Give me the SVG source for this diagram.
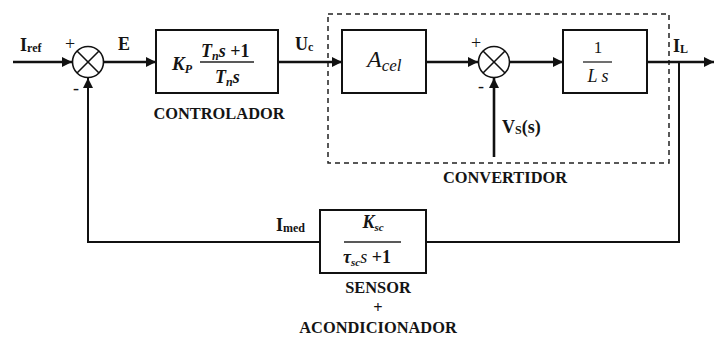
<svg xmlns="http://www.w3.org/2000/svg" width="714" height="340" viewBox="0 0 714 340" font-family="'Liberation Serif', 'DejaVu Serif', serif">
<style>
text{font-family:'Liberation Serif','DejaVu Serif',serif;fill:#141414}
.lbl{font-weight:bold;font-size:18px}
.sub{font-size:12px;font-weight:bold}
.cap{font-weight:bold;font-size:16.4px;text-anchor:middle}
.box{fill:#fff;stroke:#111;stroke-width:2}
.sum{fill:#fff;stroke:#111;stroke-width:1.6}
.x{stroke:#111;stroke-width:1.6}
.main{fill:none;stroke:#111;stroke-width:2.6}
.fb{fill:none;stroke:#111;stroke-width:2}
.frac{stroke:#222;stroke-width:1.3}
.math{font-style:italic;font-weight:bold}
.mi{font-style:italic}
</style>
<defs>
<marker id="arr" viewBox="0 0 10 10" markerWidth="12" markerHeight="10" refX="10" refY="5" orient="auto" markerUnits="userSpaceOnUse">
<path d="M0,0 L10,5 L0,10 z" fill="#111"/>
</marker>
</defs>

<rect id="convertidor-frame" x="328" y="14" width="341" height="149" fill="none" stroke="#222" stroke-width="1.5" stroke-dasharray="5,4"/>

<g id="connectors">
<path class="main" d="M13,62 H72" marker-end="url(#arr)"/>
<path class="main" d="M104,62 H156" marker-end="url(#arr)"/>
<path class="main" d="M278,62 H342" marker-end="url(#arr)"/>
<path class="main" d="M426,62 H478" marker-end="url(#arr)"/>
<path class="main" d="M510,62 H563" marker-end="url(#arr)"/>
<path class="main" d="M647,62 H714" marker-end="url(#arr)"/>
<path class="main" d="M494,157 V78" marker-end="url(#arr)"/>
<path class="fb" d="M679,62 V242 H426"/>
<path class="fb" d="M320,242 H88 V78" marker-end="url(#arr)"/>
</g>

<g id="sum1">
<circle class="sum" cx="88" cy="62" r="15.5"/>
<line class="x" x1="77" y1="51" x2="99" y2="73"/>
<line class="x" x1="99" y1="51" x2="77" y2="73"/>
<text x="70" y="50" font-size="18" text-anchor="middle">+</text>
<text x="76" y="94" font-size="18" text-anchor="middle">-</text>
</g>

<g id="controlador">
<rect class="box" x="156" y="30" width="122" height="63"/>
<text x="172" y="70" font-size="19" class="math">K<tspan font-size="12" dy="3">P</tspan></text>
<text x="201" y="57" font-size="18"><tspan class="math">T</tspan><tspan class="math" font-size="12" dy="3">n</tspan><tspan class="math" dy="-3">s</tspan><tspan font-weight="bold"> +1</tspan></text>
<line class="frac" x1="200" y1="62" x2="254" y2="62"/>
<text x="215" y="83" font-size="18"><tspan class="math">T</tspan><tspan class="math" font-size="12" dy="3">n</tspan><tspan class="math" dy="-3">s</tspan></text>
<text class="cap" x="219" y="119">CONTROLADOR</text>
</g>

<g id="acel">
<rect class="box" x="342" y="30" width="84" height="63"/>
<text x="367" y="67" font-size="24" class="mi">A<tspan font-size="17" dy="4">cel</tspan></text>
</g>

<g id="sum2">
<circle class="sum" cx="494" cy="62" r="15.5"/>
<line class="x" x1="483" y1="51" x2="505" y2="73"/>
<line class="x" x1="505" y1="51" x2="483" y2="73"/>
<text x="476" y="49" font-size="18" text-anchor="middle">+</text>
<text x="481" y="92" font-size="18" text-anchor="middle">-</text>
</g>

<g id="integrador">
<rect class="box" x="563" y="30" width="84" height="63"/>
<text x="598" y="53" font-size="17" text-anchor="middle">1</text>
<line class="frac" x1="583" y1="62" x2="612" y2="62"/>
<text x="598" y="82" font-size="18" class="mi" text-anchor="middle">L  s</text>
</g>

<g id="sensor">
<rect class="box" x="320" y="210" width="106" height="63"/>
<text x="373" y="228" font-size="18" text-anchor="middle" class="math">K<tspan font-size="11" dy="3">sc</tspan></text>
<line class="frac" x1="344" y1="242" x2="401" y2="242"/>
<text x="343" y="263" font-size="18"><tspan class="math">τ</tspan><tspan class="math" font-size="11" dy="3">sc</tspan><tspan class="mi" dy="-3">s</tspan><tspan font-weight="bold"> +1</tspan></text>
<text class="cap" x="378" y="293">SENSOR</text>
<text class="cap" x="378" y="313" font-weight="normal">+</text>
<text class="cap" x="378" y="333">ACONDICIONADOR</text>
</g>

<g id="labels">
<text class="lbl" x="20" y="51">I<tspan class="sub" dy="1">ref</tspan></text>
<text class="lbl" x="118" y="50">E</text>
<text class="lbl" x="295" y="50">U<tspan class="sub" dy="1">c</tspan></text>
<text class="lbl" x="673" y="52">I<tspan class="sub" font-size="13" dy="1">L</tspan></text>
<text class="lbl" x="502" y="133">V<tspan class="sub" font-size="13" dy="1">S</tspan><tspan dy="-1">(s)</tspan></text>
<text class="lbl" x="276" y="231">I<tspan class="sub" dy="1">med</tspan></text>
<text class="cap" x="505" y="183">CONVERTIDOR</text>
</g>
</svg>
